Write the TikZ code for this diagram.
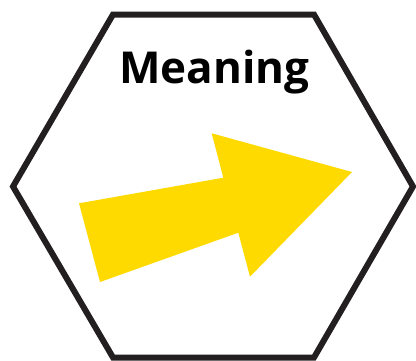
\documentclass[tikz,border=0pt]{standalone}
\usepackage{fontspec}
\setmainfont{Open Sans}
\definecolor{hexline}{HTML}{231F20}
\definecolor{arrowyellow}{HTML}{FFDA00}
\begin{document}
\begin{tikzpicture}[x=1pt,y=-1pt,
  hexstyle/.style={draw=hexline,line width=6pt,line join=miter},
  arrowstyle/.style={fill=arrowyellow,draw=none},
  titlestyle/.style={font=\fontsize{44}{50}\selectfont\bfseries,text=black,inner sep=0pt,anchor=base}]
\useasboundingbox (0,0) rectangle (416,360);
\draw[hexstyle] (113,14.5) -- (314,14.5) -- (413,186.5) -- (314,357.5) -- (113,357.5) -- (13,186.5) -- cycle;
\fill[arrowstyle] (79,203.3) -- (223.3,177.7) -- (211.7,133.3) -- (352,172) -- (250,276.7) -- (238.3,232.7) -- (100,282) -- cycle;
\node[titlestyle] (title) at (214.5,83.3) {Meaning};
\end{tikzpicture}
\end{document}
